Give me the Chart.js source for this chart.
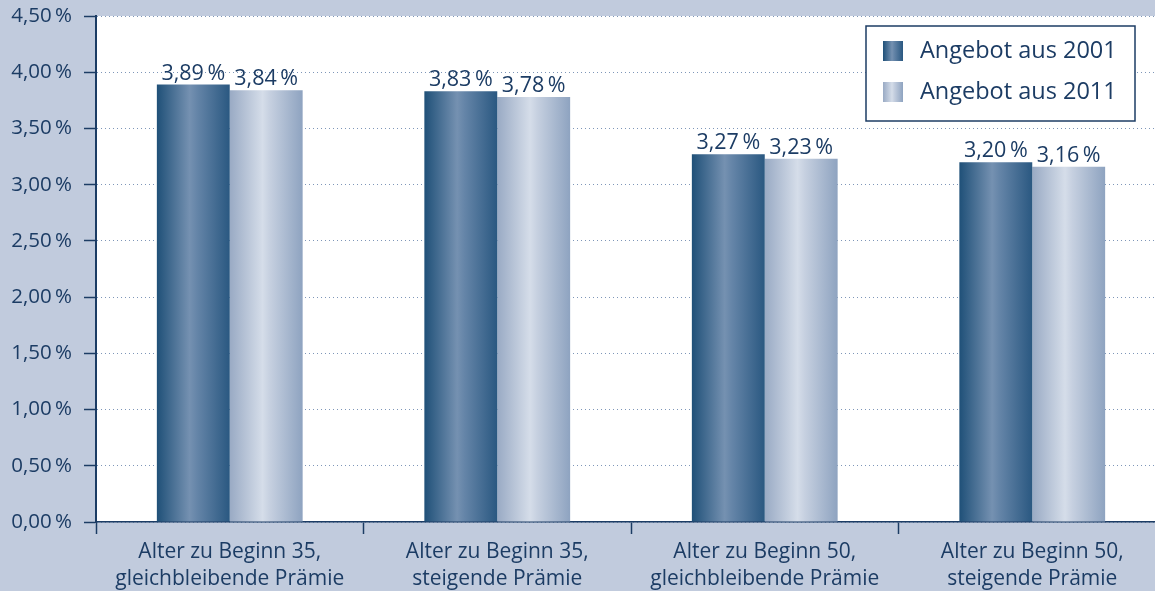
<!DOCTYPE html>
<html>
<head>
<meta charset="utf-8">
<script src="https://cdn.jsdelivr.net/npm/chart.js@4/dist/chart.umd.min.js"></script>
<style>
  html, body { margin: 0; padding: 0; background: #c1cbdd; overflow: hidden; }
  #wrap { width: 1155px; height: 591px; overflow: hidden; }
  canvas { display: block; }
</style>
</head>
<body>
<div id="wrap">
<!-- Plotfläche läuft rechts etwas über den Bildrand hinaus -->
<canvas id="renditeChart" width="1166" height="591"></canvas>
</div>
<script>
// Kategorien und Werte (Prozent)
const categories = [
    ["Alter zu Beginn 35,", "gleichbleibende Prämie"],
    ["Alter zu Beginn 35,", "steigende Prämie"],
    ["Alter zu Beginn 50,", "gleichbleibende Prämie"],
    ["Alter zu Beginn 50,", "steigende Prämie"]
];
const seriesNames = ["Angebot aus 2001", "Angebot aus 2011"];
const values2001 = [3.89, 3.83, 3.27, 3.20];
const values2011 = [3.84, 3.78, 3.23, 3.16];
const yTicks = [0, 0.5, 1, 1.5, 2, 2.5, 3, 3.5, 4, 4.5];

const NAVY = "#1c3c64";
const FONT = "'Open Sans', 'Noto Sans', sans-serif";

// horizontale Verläufe je Serie
const gradientStops = [
    [[0, "#1f5078"], [0.45, "#7591b1"], [0.55, "#6585a8"], [1, "#2a5881"]],
    [[0, "#99aac4"], [0.45, "#d5dde9"], [0.55, "#c6d0e0"], [1, "#8ea3c0"]]
];

function makeGradient(ctx, left, width, stops) {
    const g = ctx.createLinearGradient(left, 0, left + width, 0);
    stops.forEach(s => g.addColorStop(s[0], s[1]));
    return g;
}

function formatPct(v) {
    return v.toFixed(2).replace(".", ",") + "\u2009%";
}

// Hintergrund: Rand blaugrau, Plotfläche weiß
const backgroundPlugin = {
    id: "background",
    beforeDraw(chart) {
        const { ctx, chartArea } = chart;
        ctx.save();
        ctx.fillStyle = "#c1cbdd";
        ctx.fillRect(0, 0, chart.width, chart.height);
        ctx.fillStyle = "#ffffff";
        ctx.fillRect(chartArea.left, chartArea.top, chartArea.right - chartArea.left, chartArea.bottom - chartArea.top);
        ctx.restore();
    }
};

// Balken mit Verlauf füllen
const barGradientPlugin = {
    id: "barGradient",
    beforeDatasetsDraw(chart) {
        chart.data.datasets.forEach((ds, di) => {
            const meta = chart.getDatasetMeta(di);
            meta.data.forEach(el => {
                const left = el.x - el.width / 2;
                const g = makeGradient(chart.ctx, left, el.width, gradientStops[di]);
                el.options = Object.assign({}, el.options, { backgroundColor: g });
            });
        });
    }
};

// Wertbeschriftung über den Balken
const valueLabelPlugin = {
    id: "valueLabels",
    afterDatasetsDraw(chart) {
        const ctx = chart.ctx;
        ctx.save();
        ctx.font = "21.5px " + FONT;
        ctx.fillStyle = NAVY;
        ctx.textAlign = "center";
        ctx.textBaseline = "alphabetic";
        chart.data.datasets.forEach((ds, di) => {
            chart.getDatasetMeta(di).data.forEach((el, i) => {
                ctx.fillText(formatPct(ds.data[i]), el.x, el.y - 5);
            });
        });
        ctx.restore();
    }
};

// Legende im Kasten oben rechts
const boxLegendPlugin = {
    id: "boxLegend",
    afterDraw(chart) {
        const ctx = chart.ctx;
        const x = 866, y = 26, w = 269, h = 95;
        ctx.save();
        ctx.fillStyle = "#ffffff";
        ctx.fillRect(x, y, w, h);
        ctx.strokeStyle = NAVY;
        ctx.lineWidth = 1.5;
        ctx.strokeRect(x, y, w, h);
        ctx.font = "23.5px " + FONT;
        ctx.textBaseline = "middle";
        ctx.textAlign = "left";
        chart.data.datasets.forEach((ds, di) => {
            const cy = y + 25 + di * 41;
            ctx.fillStyle = makeGradient(ctx, x + 17, 20, gradientStops[di]);
            ctx.fillRect(x + 17, cy - 10, 20, 20);
            ctx.fillStyle = NAVY;
            ctx.fillText(ds.label, x + 54, cy);
        });
        ctx.restore();
    }
};

const ctx = document.getElementById("renditeChart").getContext("2d");

new Chart(ctx, {
    type: "bar",
    data: {
        labels: categories,
        datasets: [
            { label: seriesNames[0], data: values2001, backgroundColor: "#4a6f96" },
            { label: seriesNames[1], data: values2011, backgroundColor: "#b5c3d7" }
        ]
    },
    options: {
        responsive: false,
        animation: false,
        layout: { padding: { top: 16, right: 0, bottom: 0, left: 0 } },
        datasets: {
            bar: { barPercentage: 1, categoryPercentage: 0.545 }
        },
        plugins: {
            legend: { display: false },
            tooltip: { enabled: false }
        },
        scales: {
            x: {
                grid: {
                    offset: true,
                    drawOnChartArea: false,
                    drawTicks: true,
                    tickLength: 12,
                    tickColor: NAVY,
                    tickWidth: 1.5
                },
                border: { display: true, color: NAVY, width: 1.5 },
                ticks: {
                    color: NAVY,
                    padding: 4,
                    font: { family: FONT, size: 21, lineHeight: 1.3 }
                },
                afterFit(scale) {
                    scale.height = 69;
                    scale.paddingLeft = 0;
                    scale.paddingRight = 0;
                }
            },
            y: {
                min: 0,
                max: 4.5,
                afterBuildTicks(scale) {
                    scale.ticks = yTicks.map(v => ({ value: v }));
                },
                grid: {
                    color: "#7e96b8",
                    lineWidth: 1,
                    drawTicks: true,
                    tickLength: 12,
                    tickColor: NAVY,
                    tickWidth: 1.5,
                    tickBorderDash: []
                },
                border: { display: true, color: NAVY, width: 2, dash: [1, 3] },
                ticks: {
                    color: NAVY,
                    padding: 12,
                    font: { family: FONT, size: 20.5 },
                    callback: v => formatPct(v)
                },
                afterFit(scale) {
                    scale.width = 96;
                    scale.paddingTop = 0;
                    scale.paddingBottom = 0;
                }
            }
        }
    },
    plugins: [backgroundPlugin, barGradientPlugin, valueLabelPlugin, boxLegendPlugin]
});
</script>
</body>
</html>
